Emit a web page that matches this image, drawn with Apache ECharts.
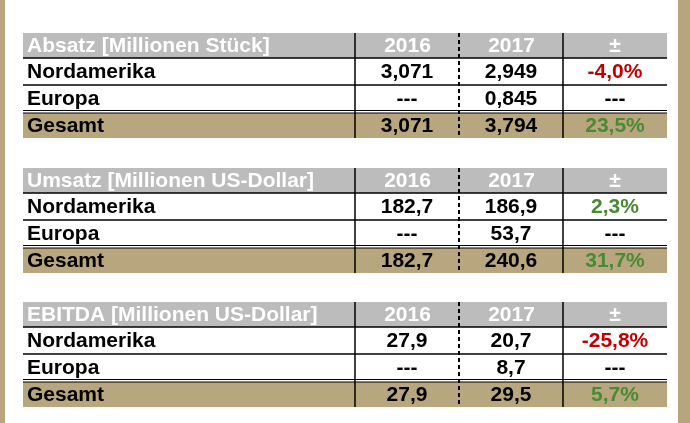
<!DOCTYPE html><html><head><meta charset="utf-8">
<script src="https://cdn.jsdelivr.net/npm/echarts@6/dist/echarts.min.js"></script>
<style>html,body{margin:0;padding:0;background:#fff}#c{width:690px;height:423px}</style></head><body><div id="c"></div>
<script>
const titles=["Absatz [Millionen Stück]","Umsatz [Millionen US-Dollar]","EBITDA [Millionen US-Dollar]"];
const colHeaders=["2016","2017","±"];
const rowLabels=["Nordamerika","Europa","Gesamt"];
const v2016=[["3,071","---","3,071"],["182,7","---","182,7"],["27,9","---","27,9"]];
const v2017=[["2,949","0,845","3,794"],["186,9","53,7","240,6"],["20,7","8,7","29,5"]];
const change=[["-4,0%","---","23,5%"],["2,3%","---","31,7%"],["-25,8%","---","5,7%"]];
const blockTops=[33,168,302];
const cols=[23,355,460,563,667];
const g=[];
const font='bold 21px "Liberation Sans", Arial, sans-serif';
g.push({type:'rect',shape:{x:0,y:0,width:5,height:423},style:{fill:'#b9a57c'}});
g.push({type:'rect',shape:{x:678,y:0,width:12,height:423},style:{fill:'#b9a57c'}});
blockTops.forEach((t,b)=>{
  g.push({type:'rect',shape:{x:23,y:t,width:644,height:25},style:{fill:'#bcbcbc'}});
  g.push({type:'rect',shape:{x:23,y:t+80,width:644,height:25},style:{fill:'#b8a67e'}});
  g.push({type:'text',style:{x:27,y:t+13,text:titles[b],font,fill:'#fff',verticalAlign:'middle'}});
  colHeaders.forEach((h,i)=>g.push({type:'text',style:{x:(cols[i+1]+cols[i+2])/2,y:t+13,text:h,font,fill:'#fff',align:'center',verticalAlign:'middle'}}));
  const ys=[t+39,t+66,t+93];
  const line=(x1,y1,x2,y2,w,dash)=>g.push({type:'line',shape:{x1,y1,x2,y2},style:{stroke:'#000',lineWidth:w,lineDash:dash||null}});
  line(23,t+25,667,t+25,1.5);
  line(23,t+52,667,t+52,1.5);
  line(23,t+77.5,667,t+77.5,1.2);
  line(23,t+80,667,t+80,1.2);
  line(355,t,355,t+105,1.5);
  line(563,t,563,t+105,1.5);
  line(459,t,459,t+105,2,[4,3]);
  rowLabels.forEach((r,i)=>{
    g.push({type:'text',style:{x:27,y:ys[i],text:r,font,fill:'#000',verticalAlign:'middle'}});
    g.push({type:'text',style:{x:407,y:ys[i],text:v2016[b][i],font,fill:'#000',align:'center',verticalAlign:'middle'}});
    g.push({type:'text',style:{x:511,y:ys[i],text:v2017[b][i],font,fill:'#000',align:'center',verticalAlign:'middle'}});
    const c=change[b][i];
    const col=c==='---'?'#000':(c[0]==='-'?'#c00000':'#4a8a34');
    g.push({type:'text',style:{x:615,y:ys[i],text:c,font,fill:col,align:'center',verticalAlign:'middle'}});
  });
});
const ch=echarts.init(document.getElementById('c'));
ch.setOption({animation:false,graphic:g});
</script></body></html>
